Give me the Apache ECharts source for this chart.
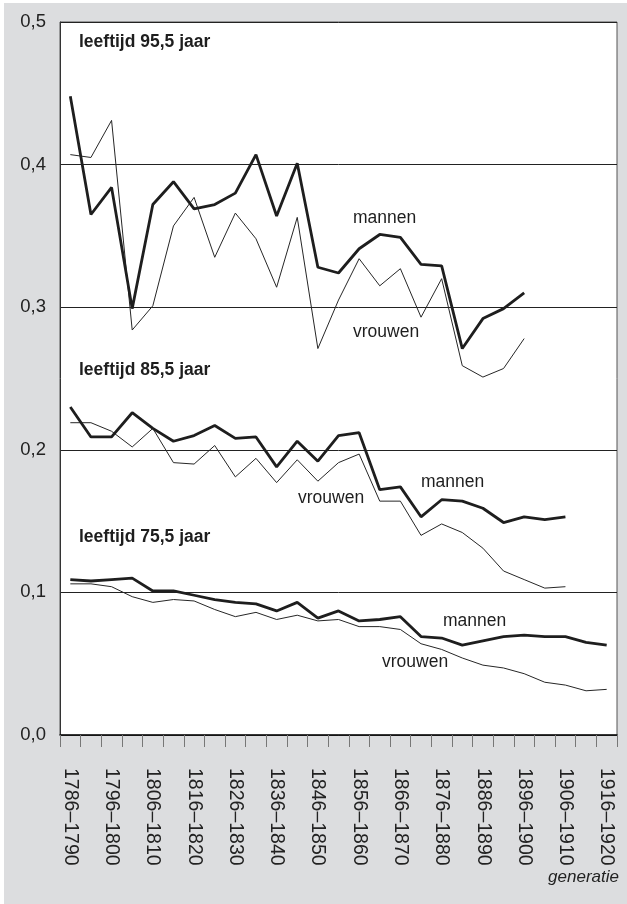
<!DOCTYPE html>
<html>
<head>
<meta charset="utf-8">
<script src="https://cdn.jsdelivr.net/npm/echarts@6/dist/echarts.min.js"></script>
<style>
  html, body { margin: 0; padding: 0; background: #fff; }
  #chart { width: 627px; height: 904px; }
</style>
</head>
<body>
<div id="chart"></div>
<script>
// generaties (5-jaars cohorten)
var generaties = [
  '1786–1790', '1791–1795', '1796–1800', '1801–1805', '1806–1810', '1811–1815',
  '1816–1820', '1821–1825', '1826–1830', '1831–1835', '1836–1840', '1841–1845',
  '1846–1850', '1851–1855', '1856–1860', '1861–1865', '1866–1870', '1871–1875',
  '1876–1880', '1881–1885', '1886–1890', '1891–1895', '1896–1900', '1901–1905',
  '1906–1910', '1911–1915', '1916–1920'
];

var mannen95 = [0.448, 0.365, 0.384, 0.299, 0.372, 0.388, 0.369, 0.372, 0.380, 0.407,
  0.364, 0.401, 0.328, 0.324, 0.341, 0.351, 0.349, 0.330, 0.329, 0.271, 0.292, 0.299, 0.310];
var vrouwen95 = [0.407, 0.405, 0.431, 0.284, 0.301, 0.357, 0.377, 0.335, 0.366, 0.348,
  0.314, 0.363, 0.271, 0.305, 0.334, 0.315, 0.327, 0.293, 0.320, 0.259, 0.251, 0.257, 0.278];

var mannen85 = [0.230, 0.209, 0.209, 0.226, 0.215, 0.206, 0.210, 0.217, 0.208, 0.209,
  0.188, 0.206, 0.192, 0.210, 0.212, 0.172, 0.174, 0.153, 0.165, 0.164, 0.159, 0.149,
  0.153, 0.151, 0.153];
var vrouwen85 = [0.219, 0.219, 0.213, 0.202, 0.215, 0.191, 0.190, 0.203, 0.181, 0.194,
  0.177, 0.193, 0.178, 0.191, 0.197, 0.164, 0.164, 0.140, 0.148, 0.142, 0.131, 0.115,
  0.109, 0.103, 0.104];

var mannen75 = [0.109, 0.108, 0.109, 0.110, 0.101, 0.101, 0.098, 0.095, 0.093, 0.092,
  0.087, 0.093, 0.082, 0.087, 0.080, 0.081, 0.083, 0.069, 0.068, 0.063, 0.066, 0.069,
  0.070, 0.069, 0.069, 0.065, 0.063];
var vrouwen75 = [0.106, 0.106, 0.104, 0.097, 0.093, 0.095, 0.094, 0.088, 0.083, 0.086,
  0.081, 0.084, 0.080, 0.081, 0.076, 0.076, 0.074, 0.064, 0.060, 0.054, 0.049, 0.047,
  0.043, 0.037, 0.035, 0.031, 0.032];

var yTicks = [0, 0.1, 0.2, 0.3, 0.4, 0.5];

var chart = echarts.init(document.getElementById('chart'));

function dik(name, data) {
  return {
    name: name, type: 'line', data: data, symbol: 'none', z: 3,
    lineStyle: { color: '#1e1e1e', width: 2.8 }
  };
}
function dun(name, data) {
  return {
    name: name, type: 'line', data: data, symbol: 'none', z: 2,
    lineStyle: { color: '#262626', width: 1 }
  };
}
function tekst(x, y, s, bold) {
  return {
    type: 'text', left: x, top: y, z: 10,
    style: {
      text: s, fill: '#1e1e1e',
      font: (bold ? 'bold ' : '') + '17.5px "Liberation Sans", Arial, sans-serif'
    }
  };
}

chart.setOption({
  animation: false,
  backgroundColor: '#fff',
  textStyle: { fontFamily: '"Liberation Sans", Arial, sans-serif' },
  grid: {
    left: 60, right: 10, top: 22, bottom: 169,
    show: true, backgroundColor: '#fff', borderColor: '#555', borderWidth: 1
  },
  xAxis: {
    type: 'category',
    data: generaties,
    boundaryGap: true,
    axisLine: { lineStyle: { color: '#111', width: 1.5 } },
    axisTick: { show: true, interval: 0, length: 12, lineStyle: { color: '#777' } },
    axisLabel: {
      interval: 1, rotate: -90, margin: 33,
      color: '#222', fontSize: 19.5
    }
  },
  yAxis: {
    type: 'value', min: 0, max: 0.5, interval: 0.1,
    axisLine: { show: true, lineStyle: { color: '#333' } },
    axisTick: { show: false },
    splitLine: { lineStyle: { color: '#222', width: 1 } },
    axisLabel: {
      margin: 14, color: '#222', fontSize: 18.5,
      formatter: function (v) { return v.toFixed(1).replace('.', ','); }
    }
  },
  graphic: [
    { type: 'rect', shape: { x: 4, y: 3, width: 623, height: 901 }, style: { fill: '#dcdddf' }, z: -10, silent: true },
    tekst(79, 33, 'leeftijd 95,5 jaar', true),
    tekst(79, 361, 'leeftijd 85,5 jaar', true),
    tekst(79, 528, 'leeftijd 75,5 jaar', true),
    tekst(353, 209, 'mannen'),
    tekst(353, 323, 'vrouwen'),
    tekst(421, 473, 'mannen'),
    tekst(298, 489, 'vrouwen'),
    tekst(443, 612, 'mannen'),
    tekst(382, 653, 'vrouwen'),
    {
      type: 'text', right: 8, top: 869, z: 10,
      style: { text: 'generatie', fill: '#222', font: 'italic 17px "Liberation Sans", Arial, sans-serif' }
    }
  ],
  series: [
    dun('vrouwen 95,5', vrouwen95),
    dik('mannen 95,5', mannen95),
    dun('vrouwen 85,5', vrouwen85),
    dik('mannen 85,5', mannen85),
    dun('vrouwen 75,5', vrouwen75),
    dik('mannen 75,5', mannen75)
  ]
});
</script>
</body>
</html>
